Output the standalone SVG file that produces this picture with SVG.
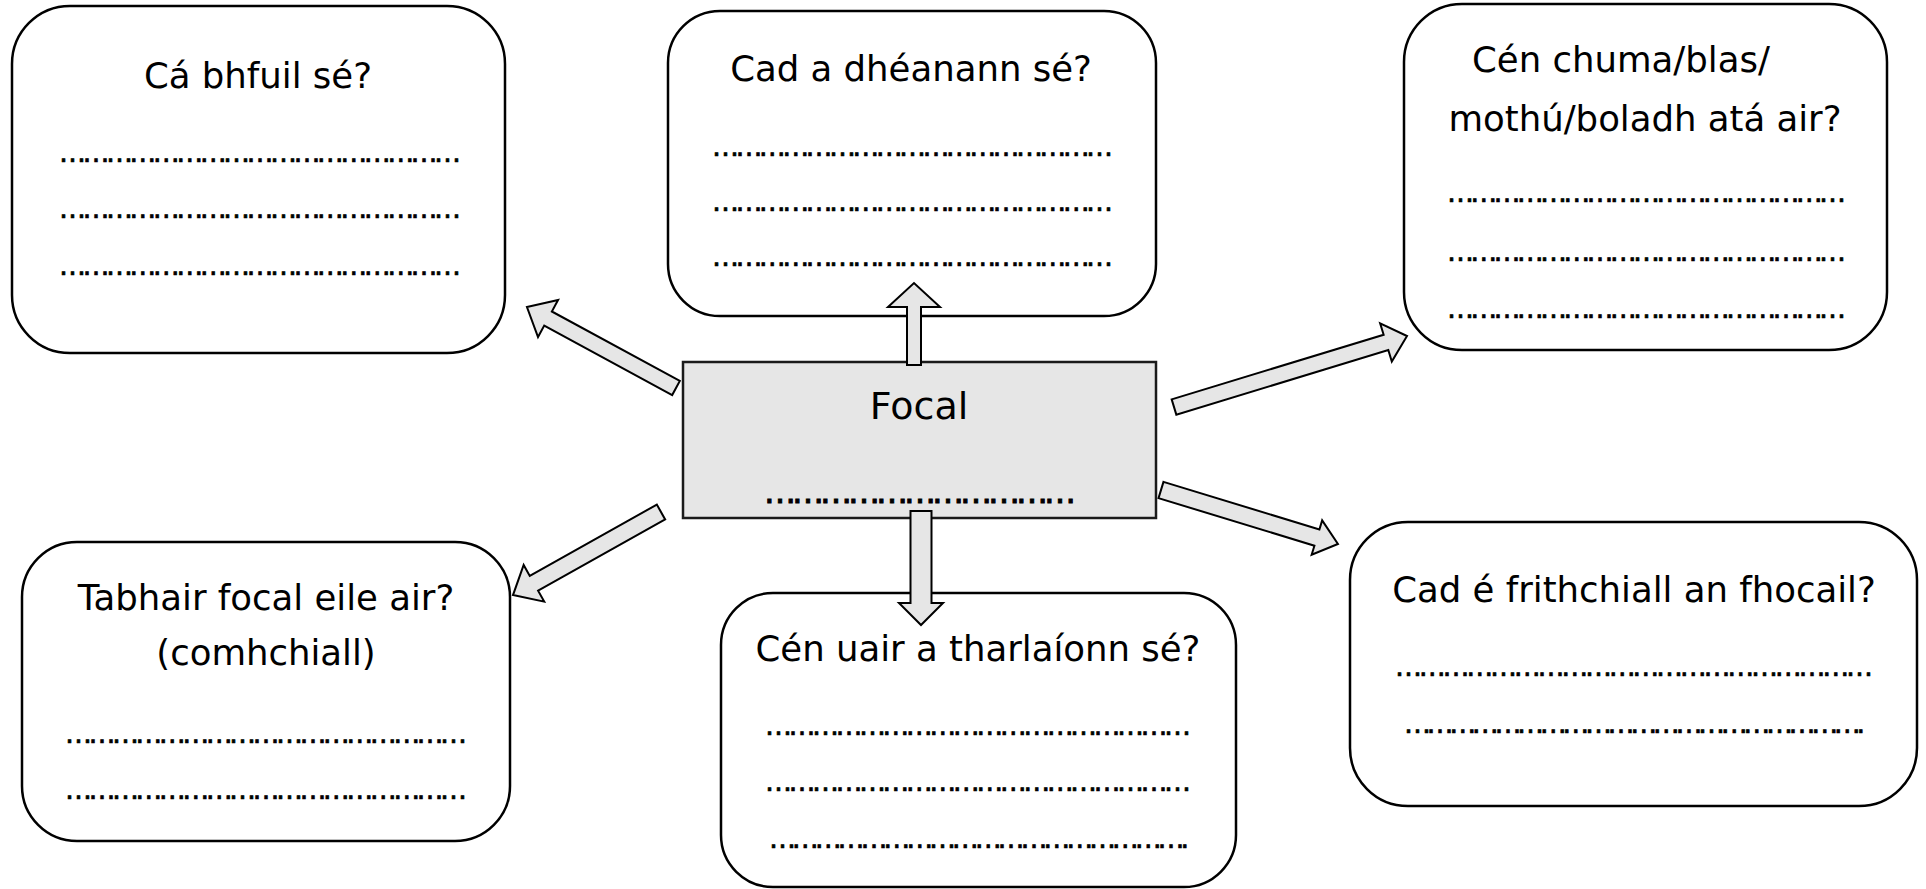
<svg xmlns="http://www.w3.org/2000/svg" width="1926" height="889" viewBox="0 0 1926 889">
<style>
.box{fill:#fff;stroke:#000;stroke-width:2.5}
.focal{fill:#e6e6e6;stroke:#1a1a1a;stroke-width:2.5}
.arrow{fill:#e6e6e6;stroke:#000;stroke-width:2;stroke-linejoin:miter}
.t{font-family:"DejaVu Sans","Liberation Sans",sans-serif;font-size:35.5px;fill:#000;text-anchor:middle}
.d{font-family:"DejaVu Sans","Liberation Sans",sans-serif;font-size:27px;fill:#000;stroke:#000;stroke-width:0.7}
</style>
<rect width="1926" height="889" fill="#fff"/>
<g id="node-where">
<rect class="box" x="12" y="6" width="493" height="347" rx="58"/>
<text class="t" x="258" y="88">Cá bhfuil sé?</text>
<text class="d" x="59" y="162" textLength="402" lengthAdjust="spacing">……………………………………………</text>
<text class="d" x="59" y="218" textLength="402" lengthAdjust="spacing">……………………………………………</text>
<text class="d" x="59" y="275" textLength="402" lengthAdjust="spacing">……………………………………………</text>
</g>
<g id="node-does">
<rect class="box" x="668" y="11" width="488" height="305" rx="52"/>
<text class="t" x="911" y="81">Cad a dhéanann sé?</text>
<text class="d" x="712" y="156" textLength="401" lengthAdjust="spacing">……………………………………………</text>
<text class="d" x="712" y="211" textLength="401" lengthAdjust="spacing">……………………………………………</text>
<text class="d" x="712" y="266" textLength="401" lengthAdjust="spacing">……………………………………………</text>
</g>
<g id="node-looks">
<rect class="box" x="1404" y="4" width="483" height="346" rx="58"/>
<text class="t" x="1621" y="72">Cén chuma/blas/</text>
<text class="t" x="1645" y="131">mothú/boladh atá air?</text>
<text class="d" x="1447" y="202" textLength="399" lengthAdjust="spacing">……………………………………………</text>
<text class="d" x="1447" y="261" textLength="399" lengthAdjust="spacing">……………………………………………</text>
<text class="d" x="1447" y="318" textLength="399" lengthAdjust="spacing">……………………………………………</text>
</g>
<g id="node-synonym">
<rect class="box" x="22" y="542" width="488" height="299" rx="55"/>
<text class="t" x="266" y="610">Tabhair focal eile air?</text>
<text class="t" x="266" y="665">(comhchiall)</text>
<text class="d" x="65" y="743" textLength="402" lengthAdjust="spacing">……………………………………………</text>
<text class="d" x="65" y="799" textLength="402" lengthAdjust="spacing">……………………………………………</text>
</g>
<g id="node-when">
<rect class="box" x="721" y="593" width="515" height="294" rx="52"/>
<text class="t" x="978" y="661">Cén uair a tharlaíonn sé?</text>
<text class="d" x="765" y="735" textLength="426" lengthAdjust="spacing">………………………………………………</text>
<text class="d" x="765" y="791" textLength="426" lengthAdjust="spacing">………………………………………………</text>
<text class="d" x="769" y="848" textLength="420" lengthAdjust="spacing">……………………………………………….</text>
</g>
<g id="node-antonym">
<rect class="box" x="1350" y="522" width="567" height="284" rx="58"/>
<text class="t" x="1634" y="602">Cad é frithchiall an fhocail?</text>
<text class="d" x="1395" y="676" textLength="478" lengthAdjust="spacing">……………………………………………………</text>
<text class="d" x="1404" y="733" textLength="461" lengthAdjust="spacing">…………………………………………………….</text>
</g>
<g id="node-focal">
<rect class="focal" x="683" y="362" width="473" height="156"/>
<text class="t" x="919" y="419" style="font-size:38px">Focal</text>
<text class="d" x="764" y="503" textLength="312" lengthAdjust="spacing" style="font-size:32px;stroke-width:1">……………………………</text>
</g>
<g id="connectors">
<path class="arrow" transform="translate(676,388) rotate(208.5)" d="M0,-8 L145.6,-8 L145.6,-21 L169.6,0 L145.6,21 L145.6,8 L0,8 Z"/>
<path class="arrow" transform="translate(914,365) rotate(-90)" d="M0,-7 L58,-7 L58,-26 L82,0 L58,26 L58,7 L0,7 Z"/>
<path class="arrow" transform="translate(1174,407) rotate(-16.95)" d="M0,-8 L221.6,-8 L221.6,-20 L243.6,0 L221.6,20 L221.6,8 L0,8 Z"/>
<path class="arrow" transform="translate(661,512) rotate(150.7)" d="M0,-8.5 L145.7,-8.5 L145.7,-21 L169.7,0 L145.7,21 L145.7,8.5 L0,8.5 Z"/>
<path class="arrow" transform="translate(921,511) rotate(90)" d="M0,-10.5 L92,-10.5 L92,-22 L114,0 L92,22 L92,10.5 L0,10.5 Z"/>
<path class="arrow" transform="translate(1161,490) rotate(16.97)" d="M0,-8.5 L163,-8.5 L163,-18 L185,0 L163,18 L163,8.5 L0,8.5 Z"/>
</g>
</svg>
